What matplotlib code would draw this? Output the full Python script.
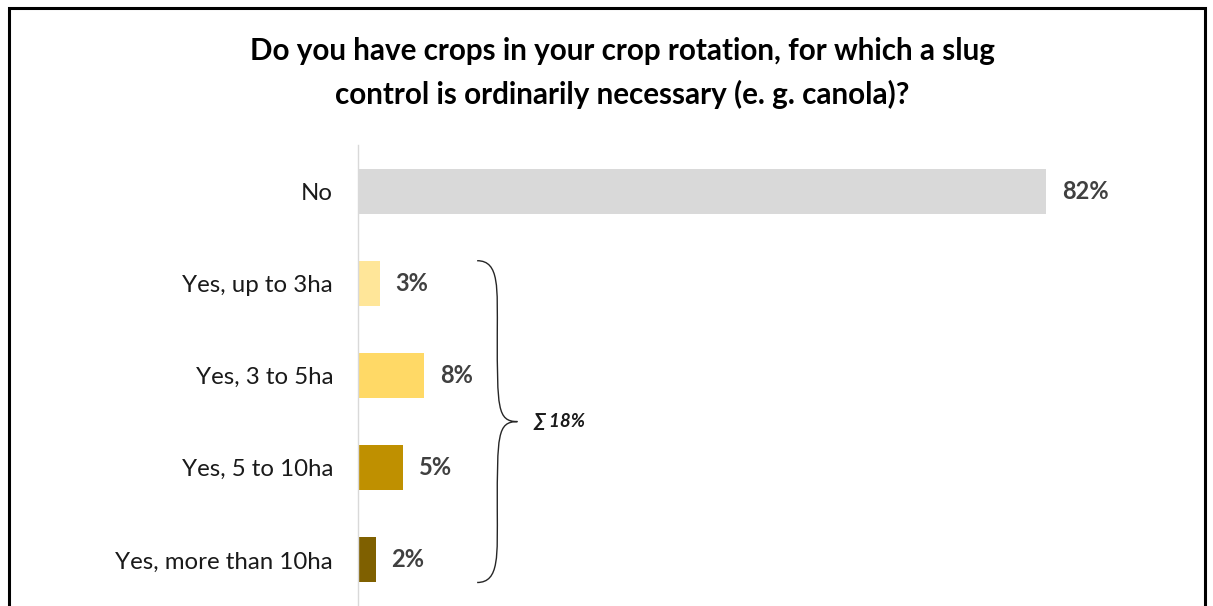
import matplotlib.pyplot as plt
from matplotlib.patches import PathPatch, Rectangle
from matplotlib.path import Path

categories = ["No", "Yes, up to 3ha", "Yes, 3 to 5ha", "Yes, 5 to 10ha", "Yes, more than 10ha"]
values = [82.0, 2.6, 7.9, 5.4, 2.1]
labels = ["82%", "3%", "8%", "5%", "2%"]
colors = ["#d9d9d9", "#ffe699", "#ffd966", "#bf9000", "#7f6000"]
sum_label = "\u2211 18%"

plt.rcParams["font.family"] = ["Lato", "DejaVu Sans"]

fig = plt.figure(figsize=(12.13, 6.06), dpi=100)
ax = fig.add_axes([358 / 1213, 0.0, 839 / 1213, (606 - 145) / 606])

ypos = list(range(len(categories)))
bar_h = 0.49
ax.barh(ypos, values, height=bar_h, color=colors)
ax.set_ylim(len(categories) - 0.5, -0.5)
ax.set_xlim(0, 100)

for y, v, lab in zip(ypos, values, labels):
    ax.text(v + 1.9, y, lab, va="center", ha="left", fontsize=17,
            fontweight="bold", color="#404040")

ax.set_yticks(ypos)
ax.set_yticklabels(categories, fontsize=17.3, color="#1a1a1a")
ax.tick_params(axis="y", length=0, pad=18)
ax.set_xticks([])
for side in ["top", "right", "bottom"]:
    ax.spines[side].set_visible(False)
ax.spines["left"].set_color("#d9d9d9")
ax.spines["left"].set_linewidth(1.0)

# curly brace around the "Yes" bars
top = 1 - bar_h / 2
bot = 4 + bar_h / 2
mid = (top + bot) / 2
x0, x1, x2 = 14.2, 16.6, 19.0
verts = [
    (x0, top), (x1 + 0.3, top), (x1, top + 0.3), (x1, top + 0.8),
    (x1, mid - 0.15), (x1, mid), (x2, mid),
    (x1, mid), (x1, mid + 0.15), (x1, bot - 0.8),
    (x1, bot - 0.3), (x1 + 0.3, bot), (x0, bot),
]
codes = [Path.MOVETO, Path.CURVE4, Path.CURVE4, Path.CURVE4,
         Path.CURVE4, Path.CURVE4, Path.CURVE4,
         Path.CURVE4, Path.CURVE4, Path.CURVE4,
         Path.CURVE4, Path.CURVE4, Path.CURVE4]
ax.add_patch(PathPatch(Path(verts, codes), fill=False, lw=1.0, ec="#262626"))
ax.text(x2 + 1.9, mid, sum_label, va="center", ha="left", fontsize=13.5,
        fontstyle="italic", fontweight="bold", color="#1a1a1a")

fig.text(622 / 1213, 1 - 73 / 606,
         "Do you have crops in your crop rotation, for which a slug\n"
         "control is ordinarily necessary (e. g. canola)?",
         ha="center", va="center", fontsize=21.3, fontweight="bold",
         linespacing=1.6, color="#000000")

fig.patches.append(Rectangle((9 / 1213, -0.1), (1205 - 9) / 1213, 1.1 - 8 / 606,
                             transform=fig.transFigure, fill=False,
                             ec="black", lw=2.2))

fig.savefig("out.png", dpi=100)
